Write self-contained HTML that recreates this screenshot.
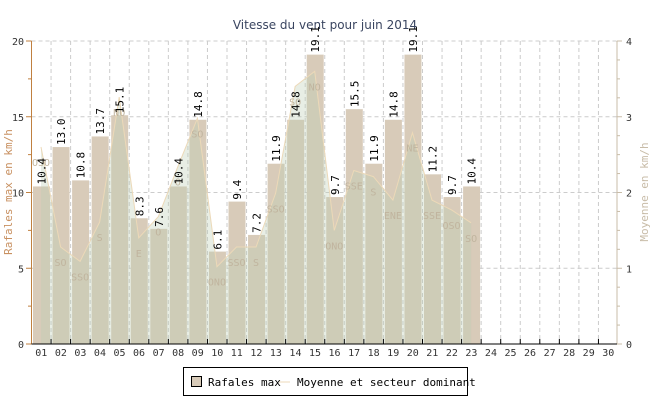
<!DOCTYPE html>
<html><head><meta charset="utf-8"><style>
html,body{margin:0;padding:0;background:#fff;}
svg{display:block;font-family:"DejaVu Sans Mono","Liberation Mono",monospace;}
</style></head><body>
<svg id="c" width="650" height="400" xmlns="http://www.w3.org/2000/svg"></svg>
<script>
var s='';
var x0=31.5,sw=19.55,yb=344,ph=303;
function X(i){return x0+sw*i;}
function Yl(v){return yb-v/20*ph;}
function Yr(v){return yb-v/4*ph;}
var bars=[10.4,13.0,10.8,13.7,15.1,8.3,7.6,10.4,14.8,6.1,9.4,7.2,11.9,14.8,19.1,9.7,15.5,11.9,14.8,19.1,11.2,9.7,10.4];
var moy=[2.6,1.28,1.09,1.61,3.26,1.4,1.68,2.34,2.98,1.02,1.28,1.28,1.99,3.4,3.6,1.5,2.29,2.21,1.9,2.79,1.9,1.77,1.6];
var dir=["OSO","SO","SSO","S","NO","E","O","O","SO","ONO","SSO","S","SSO","SO","NO","ONO","SSE","S","ENE","NE","SSE","OSO","SO"];
s+='<text x="325" y="29" text-anchor="middle" font-family="DejaVu Sans,Liberation Sans,sans-serif" font-size="12" fill="#3a4560">Vitesse du vent pour juin 2014</text>';
// grid
for(var i=1;i<30;i++){s+='<line x1="'+X(i)+'" y1="41" x2="'+X(i)+'" y2="344" stroke="#ccc" stroke-dasharray="4,3"/>';}
for(var v=5;v<=20;v+=5){s+='<line x1="31.5" y1="'+Yl(v)+'" x2="617" y2="'+Yl(v)+'" stroke="#ccc" stroke-dasharray="4,3"/>';}
// bars
for(var i=0;i<bars.length;i++){var y=Yl(bars[i]);s+='<rect x="'+(X(i)+1.5)+'" y="'+y+'" width="17" height="'+(yb-y)+'" fill="#d8cbb9"/>';}
// area
var p='M'+(X(0)+9.5)+','+yb;
for(var i=0;i<moy.length;i++){p+=' L'+(X(i)+9.5)+','+Yr(moy[i]).toFixed(1);}
p+=' L'+(X(22)+9.5)+','+yb+' Z';
s+='<path d="'+p+'" fill="rgb(190,205,180)" fill-opacity="0.35"/>';
var l='M'+(X(0)+9.5)+','+Yr(moy[0]).toFixed(1);
for(var i=1;i<moy.length;i++){l+=' L'+(X(i)+9.5)+','+Yr(moy[i]).toFixed(1);}
s+='<path d="'+l+'" fill="none" stroke="#ecd9b8" stroke-width="1"/>';
// dir labels
for(var i=0;i<dir.length;i++){s+='<text x="'+(X(i)+9.5)+'" y="'+(Yr(moy[i])+19)+'" text-anchor="middle" font-size="10" fill="#c0b49e">'+dir[i]+'</text>';}
// value labels
for(var i=0;i<bars.length;i++){var y=Yl(bars[i])-2,cx=X(i)+14;s+='<text transform="translate('+cx+','+y+') rotate(-90)" font-size="11" fill="#000">'+bars[i].toFixed(1)+'</text>';}
// axes
s+='<line x1="31.5" y1="41" x2="31.5" y2="344" stroke="#c08040"/>';
for(var k=0;k<=8;k++){var y=yb-k*ph/8;s+='<line x1="'+(k%2?28:26)+'" y1="'+y+'" x2="31.5" y2="'+y+'" stroke="#c08040"/>';}
for(var v=0;v<=20;v+=5){s+='<text x="24" y="'+(Yl(v)+4)+'" text-anchor="end" font-size="10" fill="#333">'+v+'</text>';}
s+='<line x1="617" y1="41" x2="617" y2="344" stroke="#c8bca8"/>';
for(var k=0;k<=16;k++){var y=yb-k*ph/16;s+='<line x1="617" y1="'+y+'" x2="'+(k%4?620:622)+'" y2="'+y+'" stroke="#c8bca8"/>';}
for(var v=0;v<=4;v++){s+='<text x="626" y="'+(Yr(v)+4)+'" font-size="10" fill="#333">'+v+'</text>';}
s+='<line x1="31.5" y1="344" x2="617" y2="344" stroke="#000"/>';
for(var i=1;i<30;i++){s+='<line x1="'+X(i)+'" y1="339" x2="'+X(i)+'" y2="344" stroke="#000"/>';}
for(var i=0;i<30;i++){var d=(i+1<10?'0':'')+(i+1);s+='<text x="'+(X(i)+9.8)+'" y="356" text-anchor="middle" font-size="10" fill="#333">'+d+'</text>';}
s+='<text transform="translate(12,192) rotate(-90)" text-anchor="middle" font-size="11" fill="#c89060">Rafales max en km/h</text>';
s+='<text transform="translate(648,192) rotate(-90)" text-anchor="middle" font-size="11" fill="#c8bca8">Moyenne en km/h</text>';
// legend
s+='<rect x="183.5" y="367.5" width="284" height="28" fill="#fff" stroke="#000"/>';
s+='<rect x="191.5" y="376.5" width="10" height="10" fill="#d8cbb9" stroke="#000"/>';
s+='<text x="208" y="386" font-size="11" fill="#000">Rafales max</text>';
s+='<line x1="279" y1="382" x2="290" y2="382" stroke="#ecd9b8"/>';
s+='<text x="297" y="386" font-size="11" fill="#000">Moyenne et secteur dominant</text>';
document.getElementById('c').innerHTML=s;
</script>
</body></html>
